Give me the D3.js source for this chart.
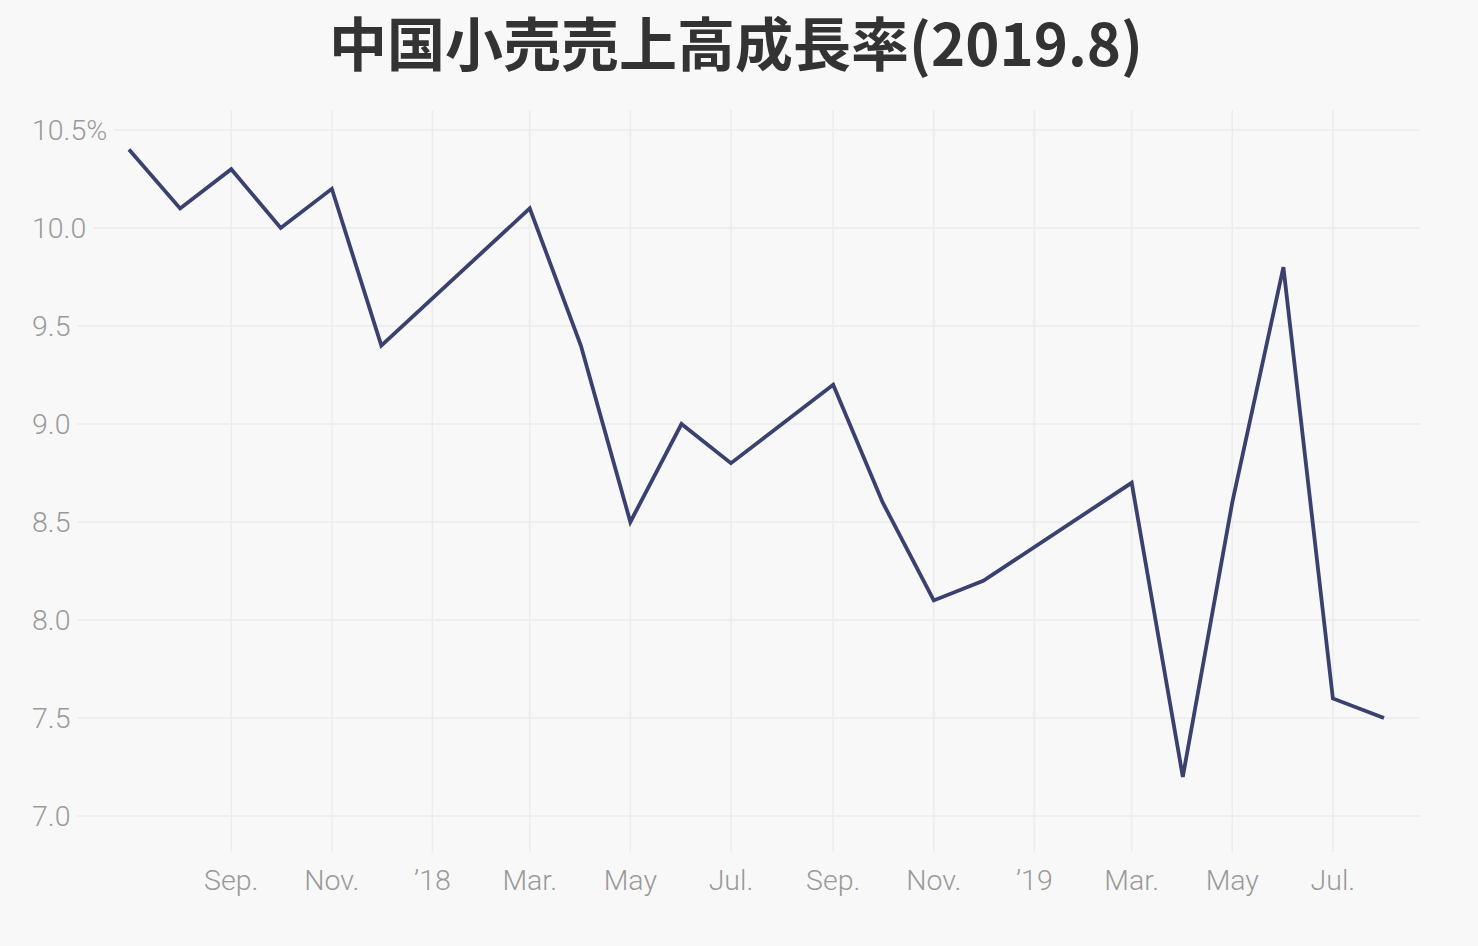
<!DOCTYPE html>
<html><head><meta charset="utf-8">
<script src="https://cdn.jsdelivr.net/npm/d3@7"></script>
<style>
html,body{margin:0;padding:0;background:#f8f8f8;}
svg{display:block;}
</style></head>
<body>
<svg id="chart" width="1478" height="946"></svg>
<script>
const title = "中国小売売上高成長率(2019.8)";
const months = ["2017-07","2017-08","2017-09","2017-10","2017-11","2017-12",
  "2018-03","2018-04","2018-05","2018-06","2018-07","2018-08","2018-09","2018-10","2018-11","2018-12",
  "2019-03","2019-04","2019-05","2019-06","2019-07","2019-08"];
const growth = [10.4,10.1,10.3,10.0,10.2,9.4,
  10.1,9.4,8.5,9.0,8.8,9.0,9.2,8.6,8.1,8.2,
  8.7,7.2,8.6,9.8,7.6,7.5];
const xTickDates = ["2017-09","2017-11","2018-01","2018-03","2018-05","2018-07","2018-09","2018-11","2019-01","2019-03","2019-05","2019-07"];
const xTickLabels = ["Sep.","Nov.","’18","Mar.","May","Jul.","Sep.","Nov.","’19","Mar.","May","Jul."];
const yTicks = [7.0,7.5,8.0,8.5,9.0,9.5,10.0,10.5];
const yTickLabels = ["7.0","7.5","8.0","8.5","9.0","9.5","10.0","10.5%"];

const parse = d3.timeParse("%Y-%m");
const data = months.map((m,i)=>({date:parse(m), value:growth[i]}));

const svg = d3.select("#chart");
svg.append("rect").attr("width",1478).attr("height",946).attr("fill","#f8f8f8");

const x = d3.scaleTime().domain([parse("2017-07"), parse("2019-08")]).range([129,1384]);
const y = d3.scaleLinear().domain([7.0,10.5]).range([816,130]);

const gridColor = "#ececec";
const labelColor = "#9a9a9a";
const font = "Roboto, 'Noto Sans', sans-serif";

// vertical grid
const vg = svg.append("g");
vg.selectAll("line").data(xTickDates).join("line")
  .attr("x1",d=>x(parse(d))).attr("x2",d=>x(parse(d)))
  .attr("y1",110).attr("y2",852)
  .attr("stroke",gridColor).attr("stroke-width",1.5);

// y labels + horizontal grid
const yg = svg.append("g");
yTicks.forEach((t,i)=>{
  const txt = yg.append("text").attr("x",32).attr("y",y(t)).attr("dy","0.35em")
    .attr("font-family",font).attr("font-weight",300).attr("font-size",28.5)
    .attr("fill",labelColor).text(yTickLabels[i]);
  const w = txt.node().getComputedTextLength();
  yg.insert("line","text").attr("x1",32+w+7).attr("x2",1420).attr("y1",y(t)).attr("y2",y(t))
    .attr("stroke",gridColor).attr("stroke-width",1.5);
});

// x labels
svg.append("g").selectAll("text").data(xTickDates).join("text")
  .attr("x",d=>x(parse(d))).attr("y",890)
  .attr("text-anchor","middle")
  .attr("font-family",font).attr("font-weight",300).attr("font-size",28.5)
  .attr("fill",labelColor).text((d,i)=>xTickLabels[i]);

// line
const line = d3.line().x(d=>x(d.date)).y(d=>y(d.value));
svg.append("path").datum(data).attr("d",line)
  .attr("fill","none").attr("stroke","#3a416f").attr("stroke-width",3.8)
  .attr("stroke-linejoin","miter");

// title
svg.append("text").attr("x",736).attr("y",66).attr("text-anchor","middle")
  .attr("font-family","'Noto Sans CJK JP', sans-serif").attr("font-weight",700)
  .attr("font-size",58).attr("fill","#333333").text(title);
</script>
</body></html>
